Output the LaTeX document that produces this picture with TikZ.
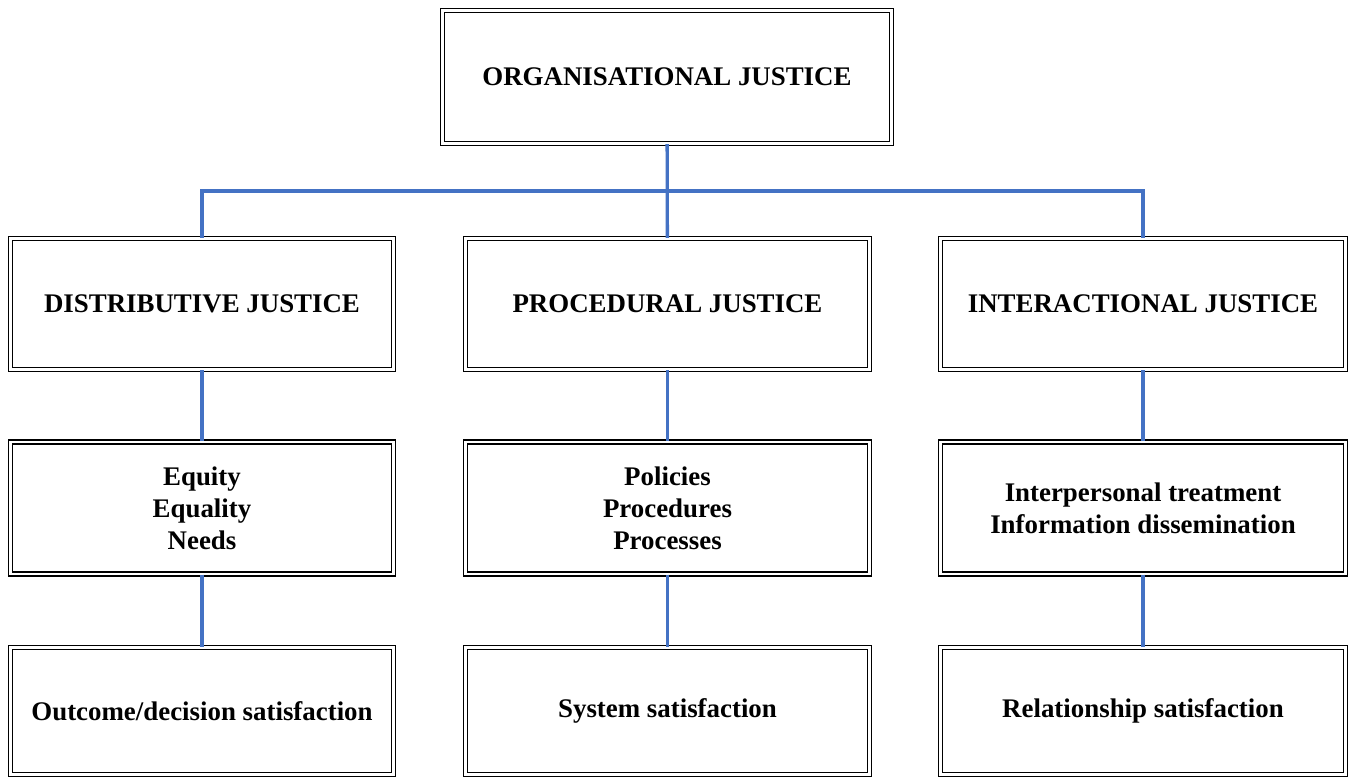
\documentclass[tikz,border=0pt]{standalone}
\usepackage{fontspec}
\setmainfont{Liberation Serif}
\definecolor{linkblue}{HTML}{4472C4}

\begin{document}
\begin{tikzpicture}[
    x=0.02cm, y=-0.02cm,
    box/.style={draw, double, double distance=1.4pt, line width=0.75pt,
        inner sep=0pt, align=center,
        font={\fontsize{15.3}{18.3}\selectfont\bfseries}},
    link/.style={linkblue, line width=1.9pt},
    ]

    \useasboundingbox (0,0) rectangle (1350,778);

    % Top box
    \node[box, minimum width=449*0.02cm, minimum height=133*0.02cm] (org) at (667,77) {ORGANISATIONAL JUSTICE};

    % Justice types
    \node[box, minimum width=383*0.02cm, minimum height=131*0.02cm] (dist) at (202,304) {DISTRIBUTIVE JUSTICE};
    \node[box, minimum width=404*0.02cm, minimum height=131*0.02cm] (proc) at (667.5,304) {PROCEDURAL JUSTICE};
    \node[box, minimum width=405*0.02cm, minimum height=131*0.02cm] (inter) at (1143,304) {INTERACTIONAL JUSTICE};

    % Components
    \node[box, minimum width=383*0.02cm, minimum height=132*0.02cm] (distc) at (202,508) {Equity\\Equality\\Needs};
    \node[box, minimum width=404*0.02cm, minimum height=132*0.02cm] (procc) at (667.5,508) {Policies\\Procedures\\Processes};
    \node[box, minimum width=405*0.02cm, minimum height=132*0.02cm] (interc) at (1143,508) {Interpersonal treatment\\Information dissemination};

    % Outcomes
    \node[box, minimum width=383*0.02cm, minimum height=127*0.02cm] (dists) at (202,711) {Outcome/decision satisfaction};
    \node[box, minimum width=404*0.02cm, minimum height=127*0.02cm] (procs) at (667.5,711) {System satisfaction};
    \node[box, minimum width=405*0.02cm, minimum height=127*0.02cm] (inters) at (1143,711) {Relationship satisfaction};

    % Connectors
    \coordinate (bus) at (667.5,191);
    \draw[link] (org) -- (proc);
    \draw[link] (dist.north) |- (bus) -| (inter.north);
    \draw[link] (dist) -- (distc);
    \draw[link] (proc) -- (procc);
    \draw[link] (inter) -- (interc);
    \draw[link] (distc) -- (dists);
    \draw[link] (procc) -- (procs);
    \draw[link] (interc) -- (inters);

\end{tikzpicture}
\end{document}
